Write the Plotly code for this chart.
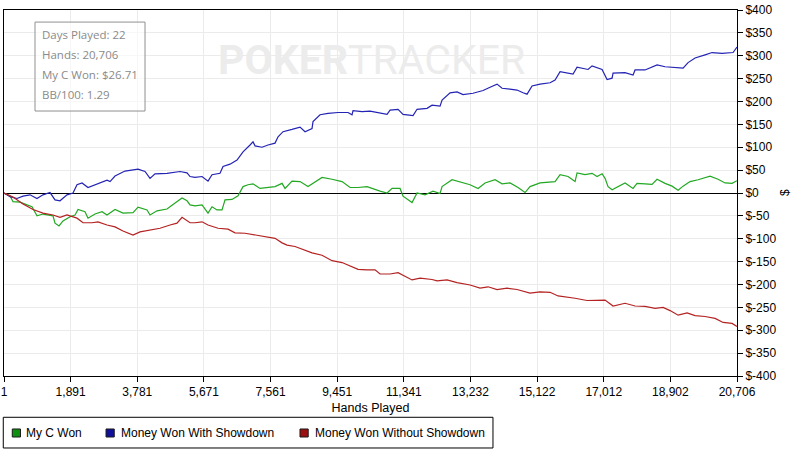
import plotly.graph_objects as go

# ---- data ----
cwon_hands = [1,171,255,453,651,792,933,1103,1385,1442,1555,1668,1866,2007,2092,2289,2374,2572,2770,2911,
              3137,3363,3645,3787,4041,4126,4323,4606,4775,5030,5171,5256,5397,5595,5764,5877,6018,6160,6244,
              6442,6612,6753,6894,7035,7233,7431,7657,7855,7940,8137,8363,8589,8730,8985,9267,9550,9776,10002,
              10256,10425,10623,10821,10962,11188,11273,11527,11668,11894,12120,12318,12375,12657,12940,13166,
              13392,13589,13872,14070,14296,14522,14719,14860,15143,15426,15567,15708,15934,16132,16188,16414,
              16612,16753,16895,16979,17064,17177,17346,17544,17770,17883,18109,18307,18448,18674,18872,19042,
              19183,19380,19606,19945,20171,20369,20567,20706]
cwon_vals = [0,-6,-19,-20,-26,-30,-50,-46,-50,-66,-72,-61,-52,-48,-36,-41,-55,-46,-41,-48,
             -36,-44,-43,-31,-37,-48,-39,-35,-25,-11,-17,-26,-28,-26,-44,-30,-37,-37,-15,
             -14,-6,14,18,20,10,12,14,21,10,26,25,14,21,34,30,25,12,12,
             14,9,4,0,10,10,-7,-21,0,-4,4,-1,14,29,22,18,
             10,22,29,20,22,12,1,14,22,25,25,40,36,25,44,40,
             43,36,42,32,14,7,14,22,10,21,20,19,30,21,15,6,
             15,25,29,37,30,22,21,27]

sd_hands = [1,171,368,538,736,933,1103,1301,1442,1583,1781,1950,2063,2205,2374,2572,2713,2911,2996,3137,
            3419,3787,3984,4126,4267,4606,4973,5171,5256,5397,5595,5764,5877,6103,6188,6386,6583,6753,6951,
            7035,7092,7290,7459,7657,7742,7883,8137,8363,8504,8702,8730,8928,9154,9437,9719,9832,9860,10115,
            10341,10538,10708,10821,10906,11132,11273,11555,11668,11951,12092,12318,12375,12601,12798,12968,
            13250,13533,13731,13928,14070,14296,14493,14663,14776,14917,15143,15426,15567,15708,16075,16188,
            16499,16612,16895,17036,17177,17205,17544,17770,17827,18109,18448,18674,19183,19324,19522,19804,
            20002,20285,20595,20706]
sd_vals = [0,-8,-12,-7,-4,-12,-4,1,-15,-17,-4,0,18,22,12,18,21,28,25,37,
           48,52,47,32,42,43,47,44,36,34,36,26,40,43,58,63,72,90,105,
           112,103,100,105,109,123,134,139,144,134,141,156,171,174,176,176,171,180,178,
           179,176,174,172,181,183,172,169,183,185,192,190,203,219,221,215,
           218,224,231,238,229,227,225,219,216,234,238,241,247,265,260,275,
           270,278,270,248,251,262,263,258,269,269,280,276,273,285,295,302,
           307,305,307,319]

nsd_hands = [1,255,538,820,1103,1385,1583,1781,2063,2233,2487,2657,2911,3137,3363,3645,3843,4126,4408,4691,
             4888,5030,5256,5397,5595,5764,6047,6329,6527,6809,7092,7374,7657,7855,7996,8222,8448,8702,8985,
             9267,9550,9832,10002,10256,10482,10623,10906,11132,11527,11753,12092,12233,12516,12798,13166,
             13448,13674,13928,14211,14493,14860,15143,15426,15652,15849,16132,16471,16782,16979,17205,17544,
             17827,18109,18392,18618,18816,19042,19296,19522,19804,20087,20313,20567,20706]
nsd_vals = [0,-9,-24,-36,-44,-48,-53,-48,-55,-65,-65,-63,-70,-74,-83,-92,-85,-81,-77,-70,
            -66,-53,-65,-65,-63,-70,-77,-79,-87,-88,-92,-96,-99,-109,-114,-117,-123,-131,-136,
            -148,-152,-161,-167,-168,-168,-177,-177,-174,-190,-186,-189,-192,-190,-196,-201,
            -208,-205,-211,-208,-211,-219,-216,-217,-225,-227,-230,-235,-234,-234,-247,-241,
            -247,-248,-252,-250,-257,-267,-262,-268,-270,-274,-283,-285,-292]

series_names = ["My C Won", "Money Won With Showdown", "Money Won Without Showdown"]
line_colors = ["#22a822", "#2323b4", "#b42222"]
legend_colors = ["#109010", "#10109a", "#9a1010"]

x_tick_labels = ["1", "1,891", "3,781", "5,671", "7,561", "9,451", "11,341",
                 "13,232", "15,122", "17,012", "18,902", "20,706"]
y_tick_vals = [400, 350, 300, 250, 200, 150, 100, 50, 0, -50, -100, -150, -200, -250, -300, -350, -400]
y_tick_labels = ["$" + str(v) for v in y_tick_vals]

info_lines = ["Days Played: 22", "Hands: 20,706", "My C Won: $26.71", "BB/100: 1.29"]

x_min, x_max = 1, 20706
n_x_ticks = len(x_tick_labels)
x_tick_pos = [x_min + i * (x_max - x_min) / (n_x_ticks - 1) for i in range(n_x_ticks)]

FONT = "Liberation Sans, Arial, sans-serif"

fig = go.Figure()
for xs, ys, name, col in zip([cwon_hands, sd_hands, nsd_hands],
                             [cwon_vals, sd_vals, nsd_vals], series_names, line_colors):
    fig.add_trace(go.Scatter(x=xs, y=ys, mode="lines", name=name,
                             line=dict(color=col, width=1.2), showlegend=False,
                             hoverinfo="skip"))

fig.update_layout(
    width=800, height=451,
    margin=dict(l=4, r=63, t=10, b=75, autoexpand=False),
    paper_bgcolor="white", plot_bgcolor="white",
    font=dict(family=FONT, size=12, color="#000000"),
    showlegend=False,
)
fig.update_xaxes(range=[x_min, x_max], tickvals=x_tick_pos, ticktext=x_tick_labels,
                 showgrid=True, gridcolor="#ebebeb", gridwidth=1,
                 showline=True, linecolor="#000000", linewidth=1, mirror=True,
                 ticks="outside", ticklen=5, tickcolor="#000000",
                 zeroline=False, tickfont=dict(size=12), automargin=False,
                 title=dict(text="Hands Played", font=dict(size=12.5), standoff=4))
fig.update_yaxes(range=[-400, 400], side="right", tickvals=y_tick_vals, ticktext=y_tick_labels,
                 showgrid=True, gridcolor="#ebebeb", gridwidth=1,
                 showline=True, linecolor="#000000", linewidth=1, mirror=True,
                 ticks="outside", ticklen=5, tickcolor="#000000",
                 zeroline=True, zerolinecolor="#000000", zerolinewidth=1.2,
                 tickfont=dict(size=12), automargin=False)

# y-axis title "$"
fig.add_annotation(xref="paper", yref="paper", x=1.0655, y=0.5, text="$", textangle=-90,
                   showarrow=False, xanchor="center", yanchor="middle",
                   font=dict(family=FONT, size=12, color="#000000"))

# watermark
fig.add_annotation(xref="paper", yref="paper", x=0.502, y=0.863,
                   text="<b>POKER</b>TRACKER", showarrow=False,
                   font=dict(family="Roboto, Open Sans, sans-serif", size=41, color="#ececec"),
                   xanchor="center", yanchor="middle")

# info box
fig.add_shape(type="rect", xref="paper", yref="paper", x0=0.0423, x1=0.1924, y0=0.724, y1=0.967,
              line=dict(color="#909090", width=1), fillcolor="rgba(255,255,255,0.6)")
for i, t in enumerate(info_lines):
    fig.add_annotation(xref="paper", yref="paper", x=0.049, y=0.934 - i * 0.0547,
                       text=t, showarrow=False, xanchor="left", yanchor="middle",
                       font=dict(family="Open Sans, Noto Sans, sans-serif", size=11.5, color="#8a8a8a"))

# legend box (below the plot, drawn in paper coordinates)
fig.add_shape(type="rect", xref="paper", yref="paper", x0=-0.001, x1=0.6671, y0=-0.1967, y1=-0.1128,
              line=dict(color="#000000", width=1), fillcolor="white")
legend_sq_x = [0.0113, 0.1392, 0.4038]
legend_txt_x = [0.0273, 0.1569, 0.4216]
for name, col, sx, tx in zip(series_names, legend_colors, legend_sq_x, legend_txt_x):
    fig.add_shape(type="rect", xref="paper", yref="paper", x0=sx, x1=sx + 0.0112,
                  y0=-0.1667, y1=-0.1448, line=dict(color="#1a1a1a", width=1), fillcolor=col)
    fig.add_annotation(xref="paper", yref="paper", x=tx, y=-0.1557, text=name,
                       showarrow=False, xanchor="left", yanchor="middle",
                       font=dict(family=FONT, size=12, color="#000000"))

fig.write_html("out.html", config={"displayModeBar": False},
               post_script="document.body.style.margin='0';document.body.style.padding='0';")
